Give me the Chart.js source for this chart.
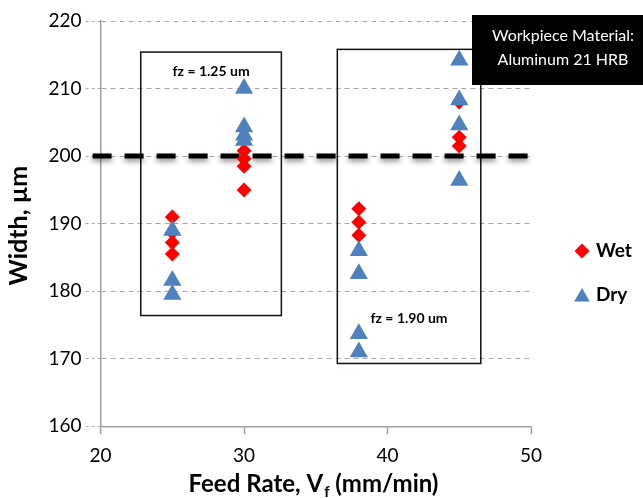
<!DOCTYPE html>
<html>
<head>
<meta charset="utf-8">
<script src="https://cdn.jsdelivr.net/npm/chart.js@4.4.1/dist/chart.umd.min.js"></script>
<style>
  html, body { margin: 0; padding: 0; background: #fff; }
</style>
</head>
<body>
<canvas id="myChart" width="643" height="498"></canvas>
<script>
var wetFeed  = [25, 25, 25, 25, 30, 30, 30, 30, 38, 38, 38, 45, 45, 45];
var wetWidth = [191.0, 188.7, 187.2, 185.5, 200.8, 199.6, 198.5, 195.0, 192.2, 190.2, 188.3, 208.0, 202.8, 201.5];
var dryFeed  = [25, 25, 25, 30, 30, 30, 30, 38, 38, 38, 38, 45, 45, 45, 45];
var dryWidth = [189.0, 181.6, 179.5, 210.0, 204.3, 203.1, 202.3, 186.0, 182.6, 173.7, 171.0, 214.2, 208.3, 204.6, 196.4];
var seriesNames = ['Wet', 'Dry'];
var xTicks = [20, 30, 40, 50];
var yTicks = [160, 170, 180, 190, 200, 210, 220];
var nominalWidth = 200;
var groupLabels = ['fz = 1.25 um', 'fz = 1.90 um'];
var materialLines = ['Workpiece Material:', 'Aluminum 21 HRB'];

var FONT = "Lato, 'Open Sans', sans-serif";

function points(xs, ys) {
  return xs.map(function (x, i) { return { x: x, y: ys[i] }; });
}

// boxes around each fz group, in data units
var groupBoxes = [
  { x0: 22.8, x1: 32.6, y0: 176.4, y1: 215.4, labelY: 212.6 },
  { x0: 36.5, x1: 46.5, y0: 169.3, y1: 215.8, labelY: 176.0 }
];

var decorations = {
  id: 'decorations',
  beforeDatasetsDraw: function (chart) {
    var ctx = chart.ctx, xs = chart.scales.x, ys = chart.scales.y;
    ctx.save();
    // group boxes
    ctx.strokeStyle = '#111';
    ctx.lineWidth = 1.5;
    groupBoxes.forEach(function (b, i) {
      var l = xs.getPixelForValue(b.x0), r = xs.getPixelForValue(b.x1);
      var t = ys.getPixelForValue(b.y1), btm = ys.getPixelForValue(b.y0);
      ctx.strokeRect(l, t, r - l, btm - t);
      ctx.fillStyle = '#000';
      ctx.font = 'bold 14px ' + FONT;
      ctx.textAlign = 'center';
      ctx.textBaseline = 'middle';
      ctx.fillText(groupLabels[i], (l + r) / 2, ys.getPixelForValue(b.labelY));
    });
    // nominal width line
    var y = ys.getPixelForValue(nominalWidth);
    ctx.strokeStyle = '#000';
    ctx.lineWidth = 5;
    ctx.setLineDash([19, 13]);
    ctx.shadowColor = 'rgba(0,0,0,0.45)';
    ctx.shadowBlur = 5;
    ctx.shadowOffsetY = 3;
    ctx.beginPath();
    ctx.moveTo(chart.chartArea.left - 8, y);
    ctx.lineTo(chart.chartArea.right, y);
    ctx.stroke();
    ctx.restore();
  },
  afterDraw: function (chart) {
    var ctx = chart.ctx, area = chart.chartArea;
    ctx.save();

    // legend
    var rows = [251, 295];
    chart.data.datasets.forEach(function (ds, i) {
      var mx = area.right + 51, my = rows[i];
      ctx.fillStyle = ds.backgroundColor;
      var r = ds.pointStyle === 'triangle' ? 9 : 7.5;
      if (Chart.helpers && Chart.helpers.drawPoint) {
        Chart.helpers.drawPoint(ctx, { pointStyle: ds.pointStyle, radius: r, rotation: 0, borderWidth: 0 }, mx, ds.pointStyle === 'triangle' ? my + 2 : my);
      }
      ctx.fillStyle = '#000';
      ctx.font = 'bold 19px ' + FONT;
      ctx.textAlign = 'left';
      ctx.textBaseline = 'middle';
      ctx.fillText(ds.label, area.right + 65, my);
    });

    // material tag
    ctx.fillStyle = '#000';
    ctx.fillRect(472, 15, 171, 70);
    ctx.fillStyle = '#fff';
    ctx.font = '16px ' + FONT;
    ctx.textAlign = 'center';
    ctx.textBaseline = 'middle';
    ctx.fillText(materialLines[0], 563, 36);
    ctx.fillText(materialLines[1], 563, 60);

    // y axis title
    ctx.fillStyle = '#000';
    ctx.save();
    ctx.translate(19, (area.top + area.bottom) / 2 + 2);
    ctx.rotate(-Math.PI / 2);
    ctx.font = 'bold 25px ' + FONT;
    ctx.textAlign = 'center';
    ctx.textBaseline = 'middle';
    ctx.fillText('Width, \u00b5m', 0, 0);
    ctx.restore();

    // x axis title with subscript
    var big = 'bold 24px ' + FONT, small = 'bold 15px ' + FONT;
    var p1 = 'Feed Rate, V', p2 = 'f', p3 = ' (mm/min)';
    ctx.font = big;
    var w1 = ctx.measureText(p1).width, w3 = ctx.measureText(p3).width;
    ctx.font = small;
    var w2 = ctx.measureText(p2).width;
    var x = 313 - (w1 + w2 + w3) / 2, yb = 492;
    ctx.textAlign = 'left';
    ctx.textBaseline = 'alphabetic';
    ctx.font = big;
    ctx.fillText(p1, x, yb);
    ctx.font = small;
    ctx.fillText(p2, x + w1 + 1, yb + 5);
    ctx.font = big;
    ctx.fillText(p3, x + w1 + w2 + 1, yb);
    ctx.restore();
  }
};

var ctx = document.getElementById('myChart').getContext('2d');
var chart = new Chart(ctx, {
  type: 'scatter',
  data: {
    datasets: [{
      label: seriesNames[0],
      data: points(wetFeed, wetWidth),
      pointStyle: 'rectRot',
      pointRadius: 7.5,
      pointHoverRadius: 7.5,
      backgroundColor: '#ff0000',
      borderColor: '#ff0000',
      borderWidth: 0,
      order: 2
    }, {
      label: seriesNames[1],
      data: points(dryFeed, dryWidth),
      pointStyle: 'triangle',
      pointRadius: 10.5,
      pointHoverRadius: 10.5,
      backgroundColor: '#4f81bd',
      borderColor: '#4f81bd',
      borderWidth: 0,
      order: 1
    }]
  },
  options: {
    responsive: false,
    animation: false,
    layout: { padding: { top: 21, right: 112, left: 0, bottom: 0 } },
    plugins: {
      legend: { display: false },
      tooltip: { enabled: false }
    },
    scales: {
      x: {
        type: 'linear',
        min: 20,
        max: 50,
        afterBuildTicks: function (s) { s.ticks = xTicks.map(function (v) { return { value: v }; }); },
        afterFit: function (s) { s.height = 71.7; },
        grid: { drawOnChartArea: false, tickLength: 8, color: '#a0a0a0', tickColor: '#a0a0a0', tickWidth: 1.5 },
        border: { color: '#a0a0a0', width: 1.5 },
        ticks: { color: '#000', padding: 10, font: { family: FONT, size: 19 } }
      },
      y: {
        type: 'linear',
        min: 160,
        max: 220,
        afterBuildTicks: function (s) { s.ticks = yTicks.map(function (v) { return { value: v }; }); },
        afterFit: function (s) { s.width = 100.6; },
        grid: { color: '#a6a6a6', lineWidth: 1, tickLength: 15, tickColor: '#a6a6a6', tickBorderDash: [3, 3] },
        border: { color: '#a0a0a0', width: 1.5, dash: [5, 4] },
        ticks: { color: '#000', padding: 4, font: { family: FONT, size: 19 } }
      }
    }
  },
  plugins: [decorations]
});
</script>
</body>
</html>
